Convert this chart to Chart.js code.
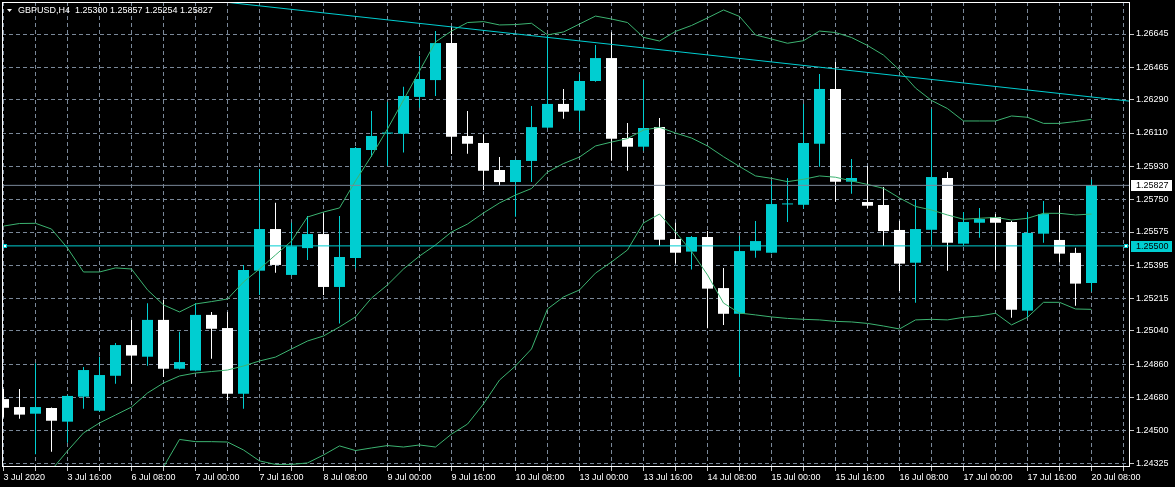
<!DOCTYPE html>
<html><head><meta charset="utf-8">
<script src="https://cdn.jsdelivr.net/npm/chart.js@4.4.0/dist/chart.umd.min.js"></script>
<style>html,body{margin:0;padding:0;background:#000;overflow:hidden}</style>
</head><body>
<canvas id="c" width="1175" height="487"></canvas>
<script>
// ---------------- data ----------------
const symbol = 'GBPUSD,H4';
const timeLabels = ['3 Jul 2020','3 Jul 16:00','6 Jul 08:00','7 Jul 00:00','7 Jul 16:00','8 Jul 08:00',
  '9 Jul 00:00','9 Jul 16:00','10 Jul 08:00','13 Jul 00:00','13 Jul 16:00','14 Jul 08:00',
  '15 Jul 00:00','15 Jul 16:00','16 Jul 08:00','17 Jul 00:00','17 Jul 16:00','20 Jul 08:00'];
const labelEvery = 4;
const yTickValues = [1.24325,1.24500,1.24680,1.24860,1.25040,1.25215,1.25395,1.25575,
  1.25750,1.25930,1.26110,1.26290,1.26465,1.26645];

const opens = [1.24672,1.24629,1.24593,1.24624,1.24550,1.24685,1.24609,1.24798,1.24964,1.24901,
  1.25100,1.24836,1.24826,1.25127,1.25056,1.24701,1.25366,1.25591,1.25343,1.25488,
  1.25564,1.25278,1.25435,1.26018,1.26107,1.26106,1.26305,1.26396,1.26596,1.26094,
  1.26056,1.25910,1.25845,1.25959,1.26139,1.26267,1.26231,1.26391,1.26515,1.26083,
  1.26036,1.26142,1.25537,1.25469,1.25548,1.25272,1.25133,1.25474,1.25463,1.25724,
  1.25722,1.26052,1.26348,1.25847,1.25737,1.25721,1.25586,1.25409,1.25587,1.25867,
  1.25512,1.25625,1.25656,1.25629,1.25150,1.25566,1.25532,1.25462,1.25300];
const highs = [1.24727,1.24727,1.24866,1.24626,1.24694,1.24845,1.24901,1.24975,1.25100,1.25190,
  1.25208,1.25036,1.25191,1.25143,1.25143,1.25397,1.25916,1.25733,1.25625,1.25662,
  1.25676,1.25662,1.26034,1.26229,1.26278,1.26360,1.26526,1.26661,1.26684,1.26229,
  1.26103,1.25980,1.25966,1.26256,1.26640,1.26348,1.26429,1.26586,1.26654,1.26164,
  1.26396,1.26191,1.25625,1.25553,1.25580,1.25381,1.25553,1.25635,1.25851,1.25867,
  1.26267,1.26429,1.26494,1.25970,1.25932,1.25818,1.25636,1.25748,1.26240,1.25899,
  1.25683,1.25705,1.25672,1.25636,1.25683,1.25743,1.25721,1.25490,1.25857];
const lows = [1.24572,1.24566,1.24374,1.24388,1.24436,1.24620,1.24605,1.24755,1.24755,1.24852,
  1.24791,1.24832,1.24822,1.24890,1.24666,1.24620,1.25235,1.25355,1.25340,1.25424,
  1.25235,1.25081,1.25379,1.25982,1.25933,1.26004,1.26247,1.26310,1.25997,1.25998,
  1.25802,1.25825,1.25658,1.25845,1.26136,1.26187,1.26122,1.26387,1.25960,1.25906,
  1.26014,1.25501,1.25405,1.25372,1.25055,1.25073,1.24793,1.25436,1.25460,1.25629,
  1.25701,1.25928,1.25739,1.25782,1.25703,1.25499,1.25256,1.25193,1.25506,1.25366,
  1.25501,1.25544,1.25371,1.25112,1.25114,1.25517,1.25411,1.25177,1.25254];
const closes = [1.24625,1.24588,1.24629,1.24555,1.24689,1.24829,1.24802,1.24964,1.24907,1.25100,
  1.24836,1.24872,1.25127,1.25052,1.24701,1.25370,1.25591,1.25397,1.25498,1.25564,
  1.25278,1.25440,1.26029,1.26094,1.26109,1.26310,1.26402,1.26596,1.26090,1.26052,
  1.25906,1.25845,1.25964,1.26142,1.26267,1.26225,1.26391,1.26515,1.26079,1.26036,
  1.26137,1.25533,1.25463,1.25548,1.25269,1.25133,1.25472,1.25526,1.25726,1.25726,
  1.26056,1.26348,1.25847,1.25867,1.25717,1.25580,1.25404,1.25591,1.25872,1.25517,
  1.25629,1.25645,1.25625,1.25155,1.25570,1.25672,1.25458,1.25296,1.25827];

const upperBand = [1.25607,1.25621,1.25622,1.25591,1.25488,1.25359,1.25359,1.25381,1.25375,1.25262,
  1.25181,1.25143,1.25186,1.25199,1.25213,1.25305,1.25375,1.25451,1.25526,1.25656,
  1.25683,1.25705,1.25851,1.25986,1.26132,1.26288,1.26445,1.26602,1.26661,1.26707,
  1.26712,1.26694,1.26696,1.26703,1.26640,1.26656,1.26699,1.26742,1.26726,1.26707,
  1.26627,1.26607,1.26659,1.26691,1.26732,1.26775,1.26740,1.26640,1.26618,1.26595,
  1.26609,1.26661,1.26653,1.26626,1.26583,1.26531,1.26450,1.26353,1.26286,1.26242,
  1.26175,1.26175,1.26175,1.26202,1.26195,1.26162,1.26162,1.26172,1.26184];
const middleBand = [null,null,null,1.24289,1.24392,1.24489,1.24543,1.24586,1.24629,1.24705,
  1.24759,1.24797,1.24813,1.24821,1.24829,1.24851,1.24878,1.24899,1.24943,1.24986,
  1.25013,1.25062,1.25116,1.25218,1.25289,1.25375,1.25445,1.25505,1.25575,1.25618,
  1.25678,1.25732,1.25775,1.25810,1.25899,1.25945,1.25980,1.26040,1.26061,1.26080,
  1.26126,1.26141,1.26110,1.26083,1.26040,1.25982,1.25929,1.25878,1.25865,1.25847,
  1.25860,1.25878,1.25871,1.25851,1.25832,1.25811,1.25759,1.25713,1.25694,1.25667,
  1.25644,1.25649,1.25654,1.25640,1.25649,1.25676,1.25676,1.25667,1.25672];
const lowerBand = [null,null,null,null,null,null,null,null,null,null,
  1.24305,1.24454,1.24442,1.24442,1.24440,1.24397,1.24338,1.24319,1.24319,1.24327,
  1.24370,1.24419,1.24394,1.24408,1.24421,1.24413,1.24424,1.24413,1.24483,1.24537,
  1.24646,1.24775,1.24851,1.24943,1.25159,1.25224,1.25262,1.25353,1.25413,1.25478,
  1.25624,1.25672,1.25575,1.25470,1.25343,1.25191,1.25137,1.25127,1.25116,1.25108,
  1.25103,1.25100,1.25092,1.25089,1.25081,1.25067,1.25051,1.25100,1.25103,1.25100,
  1.25114,1.25121,1.25136,1.25073,1.25114,1.25195,1.25195,1.25159,1.25157];

const levelLine = 1.25500;
const trendX = [10, 70.4];
const trendY = [1.26854, 1.26282];

// ---------------- layout / style ----------------
const X_MIN = -0.09375, X_MAX = 70.40625;
const Y_MIN = 1.24305, Y_MAX = 1.26818;
const BULL = '#00CED1', BEAR = '#FFFFFF', BAND = '#3CB371', GRID = '#7A8899';
const FONT = {family: "'Liberation Sans', Arial, sans-serif", size: 9};

const n = opens.length;
const bidLevel = closes[n - 1];
const idx = opens.map((_, i) => i);
const candleColors = idx.map(i => closes[i] >= opens[i] ? BULL : BEAR);
const bodyData = idx.map(i => ({x: i, y: [opens[i], closes[i]]}));
const wickData = idx.map(i => ({x: i, y: [lows[i], highs[i]]}));
const toPts = arr => arr.map((v, i) => ({x: i, y: v}));
const xTickValues = [];
for (let i = 0; i <= 70; i += 2) xTickValues.push(i);

const lineDs = (label, data, color, order) => ({
  type: 'line', label, data, borderColor: color, borderWidth: 1,
  pointRadius: 0, spanGaps: false, tension: 0, order
});

const overlay = {
  id: 'overlay',
  beforeDraw(chart) {
    const c = chart.ctx;
    c.save(); c.fillStyle = '#000'; c.fillRect(0, 0, chart.width, chart.height); c.restore();
  },
  afterDraw(chart) {
    const c = chart.ctx;
    const {left, top, right, bottom} = chart.chartArea;
    const ys = chart.scales.y;
    c.save();
    // frame
    c.strokeStyle = '#FFFFFF'; c.lineWidth = 1;
    c.strokeRect(left + 0.5, top + 0.5, right - left - 1, bottom - top - 1);
    // handles of the horizontal line
    const hy = Math.round(ys.getPixelForValue(levelLine));
    [left + 1, right - 6].forEach(hx => {
      c.fillStyle = '#FFFFFF'; c.fillRect(hx, hy - 2, 4, 4);
      c.strokeStyle = BULL; c.strokeRect(hx + 0.5, hy - 1.5, 3, 3);
    });
    // title
    c.fillStyle = '#FFFFFF';
    c.beginPath(); c.moveTo(7, 9); c.lineTo(12, 9); c.lineTo(9.5, 12); c.closePath(); c.fill();
    c.font = "9px 'Liberation Sans', Arial, sans-serif";
    c.textBaseline = 'alphabetic'; c.textAlign = 'left';
    const t = symbol + '  ' + [opens[n-1], highs[n-1], lows[n-1], closes[n-1]].map(v => v.toFixed(5)).join(' ');
    c.fillText(t, 18, 13);
    // price boxes
    const box = (v, bg, fg) => {
      const y = ys.getPixelForValue(v);
      c.fillStyle = bg; c.fillRect(right + 1, Math.round(y) - 5, 41, 11);
      c.fillStyle = fg; c.textBaseline = 'middle';
      c.fillText(v.toFixed(5), right + 6, y + 0.5);
    };
    box(bidLevel, '#FFFFFF', '#000000');
    box(levelLine, BULL, '#000000');
    c.restore();
  }
};

new Chart(document.getElementById('c'), {
  type: 'bar',
  data: {
    datasets: [
      lineDs('level', [{x: X_MIN, y: levelLine}, {x: X_MAX, y: levelLine}], BULL, 0),
      lineDs('bid', [{x: X_MIN, y: bidLevel}, {x: X_MAX, y: bidLevel}], GRID, 1),
      lineDs('trend', trendX.map((x, i) => ({x, y: trendY[i]})), BULL, 2),
      lineDs('upper', toPts(upperBand), BAND, 3),
      lineDs('middle', toPts(middleBand), BAND, 4),
      lineDs('lower', toPts(lowerBand), BAND, 5),
      {type: 'bar', label: 'body', data: bodyData, backgroundColor: candleColors,
       barThickness: 11, minBarLength: 1, order: 8},
      {type: 'bar', label: 'wick', data: wickData, backgroundColor: candleColors,
       barThickness: 1, order: 9}
    ]
  },
  options: {
    responsive: false, animation: false, events: [],
    layout: {padding: {left: 2, top: 2, right: 0, bottom: 0}},
    datasets: {bar: {grouped: false, inflateAmount: 0, borderWidth: 0}},
    plugins: {legend: {display: false}, tooltip: {enabled: false}, title: {display: false}},
    scales: {
      x: {
        type: 'linear', position: 'bottom', min: X_MIN, max: X_MAX, offset: false,
        afterFit: s => { s.height = 20; s.paddingLeft = 0; s.paddingRight = 0; },
        afterBuildTicks: s => { s.ticks = xTickValues.map(v => ({value: v})); },
        grid: {color: GRID, lineWidth: 1, drawTicks: true, tickLength: 4,
               tickColor: '#C8C8C8', tickBorderDash: [], offset: false},
        border: {display: false, dash: [4, 3]},
        ticks: {autoSkip: false, maxRotation: 0, minRotation: 0, align: 'start', padding: 1,
                color: '#FFFFFF', font: FONT,
                callback: v => (v % labelEvery === 0 ? timeLabels[v / labelEvery] : '')}
      },
      y: {
        type: 'linear', position: 'right', min: Y_MIN, max: Y_MAX,
        afterFit: s => { s.width = 45; s.paddingTop = 0; s.paddingBottom = 0; },
        afterBuildTicks: s => { s.ticks = yTickValues.map(v => ({value: v})); },
        grid: {color: GRID, lineWidth: 1, drawTicks: true, tickLength: 4,
               tickColor: '#C8C8C8', tickBorderDash: []},
        border: {display: false, dash: [4, 3]},
        ticks: {autoSkip: false, padding: 2, color: '#FFFFFF', font: FONT,
                callback: v => Number(v).toFixed(5)}
      }
    }
  },
  plugins: [overlay]
});
</script>
</body></html>
